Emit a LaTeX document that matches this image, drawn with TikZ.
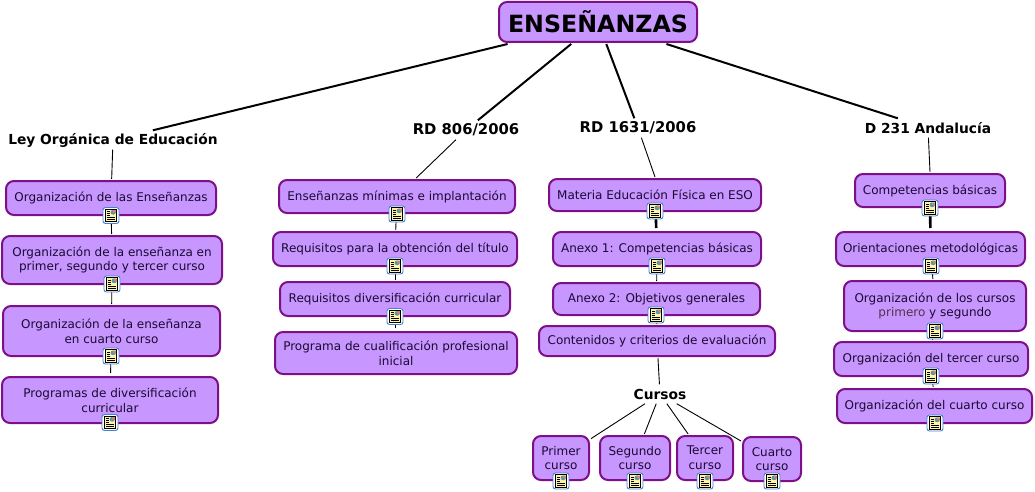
\documentclass[tikz,border=0pt]{standalone}
\usepackage{fontspec}
\setmainfont{DejaVu Sans}
\usepackage{tikz}
\definecolor{BoxFill}{RGB}{ 200, 150, 255}
\definecolor{BoxEdge}{RGB}{ 125, 15, 135}
\definecolor{BoxText}{RGB}{ 25, 10, 50}
\definecolor{DocBlue}{RGB}{ 70, 130, 205}
\definecolor{DocPaper}{RGB}{ 255, 245, 170}
\definecolor{DocSky}{RGB}{ 90, 150, 170}
\definecolor{DocRose}{RGB}{ 215, 130, 110}
\definecolor{WordBrown}{RGB}{ 85, 50, 70}

\begin{document}
\begin{tikzpicture}[x=1pt, y=-1pt]
      \tikzstyle{box}=[draw=BoxEdge, fill=BoxFill, line width=2pt, rounded corners=8,
        text=BoxText, align=center, inner sep=0, outer sep=2,
        font=\fontsize{12}{14.6}\selectfont];
      \tikzstyle{topbox}=[box, text=black, outer sep=2,
        font=\fontsize{23.7}{28}\selectfont\bfseries];
      \tikzstyle{lawlabel}=[text=black, inner sep=0, minimum height=19,
        font=\fontsize{13.8}{16}\selectfont\bfseries];
      \tikzstyle{rdlabel}=[lawlabel, font=\fontsize{14.8}{16}\selectfont\bfseries];
      \tikzstyle{mainedge}=[line width=2pt];
      \tikzstyle{subedge}=[line width=.9pt];
      \tikzstyle{heavyedge}=[line width=2.6pt];
      \tikzstyle{doc}=[draw=DocBlue, fill=white, line width=.9pt, rounded corners=2.5,
        minimum size=16, inner sep=0, path picture={
          \begin{scope}[shift={(path picture bounding box.center)}]
            \draw[draw=black, fill=DocPaper, line width=.9pt, rounded corners=0] (-5.5,-6.2) rectangle (5.5,6.2);
            \fill[DocSky] (-.5,-5.5) rectangle (4.8,-.8);
            \fill[DocRose] (2.2,-5.5) rectangle (4.8,-3);
            \draw[draw=black, line width=.9pt] (-4,-4) -- (-1.3,-4) (-4,-2) -- (-1.3,-2) (-4,0) -- (-1.3,0);
            \draw[draw=black, line width=.9pt] (-4,2) -- (4,2) (-4,4) -- (4,4);
          \end{scope}}];

      \pgfdeclarelayer{background}
      \pgfsetlayers{background,main}

      \useasboundingbox (0,0) rectangle (1035,492);

      \node[topbox, minimum width=198, minimum height=40] (root) at (598,22) {ENSEÑANZAS};

      % laws
      \node[lawlabel] (loe) at (113,140) {Ley Orgánica de Educación};
      \node[rdlabel] (rdmin) at (466,130) {RD 806/2006};
      \node[rdlabel] (rdeso) at (638,128) {RD 1631/2006};
      \node[lawlabel] (dand) at (928,128) {D 231 Andalucía};
      \node[lawlabel] (cursos) at (660,394) {Cursos};

      % first column
      \node[box, minimum width=210, minimum height=34] (orgens) at (111,198) {Organización de las Enseñanzas};
      \node[box, minimum width=220, minimum height=48] (orgprim) at (112,260) {Organización de la enseñanza en\\primer, segundo y tercer curso};
      \node[box, minimum width=217, minimum height=50] (orgcuar) at (111.5,331) {Organización de la enseñanza\\en cuarto curso};
      \node[box, minimum width=216, minimum height=46] (progdiv) at (110,400) {Programas de diversificación\\curricular};

      % second column
      \node[box, minimum width=236, minimum height=33] (ensmin) at (397,196.5) {Enseñanzas mínimas e implantación};
      \node[box, minimum width=244, minimum height=34] (reqtit) at (395,249) {Requisitos para la obtención del título};
      \node[box, minimum width=230, minimum height=34] (reqdiv) at (395,299) {Requisitos diversificación curricular};
      \node[box, minimum width=242, minimum height=42] (progcual) at (396,353) {Programa de cualificación profesional\\inicial};

      % third column
      \node[box, minimum width=212, minimum height=32] (matfis) at (655,195) {Materia Educación Física en ESO};
      \node[box, minimum width=208, minimum height=34] (anexa) at (657,249) {Anexo 1: Competencias básicas};
      \node[box, minimum width=207, minimum height=32] (anexb) at (656.5,299) {Anexo 2: Objetivos generales};
      \node[box, minimum width=236, minimum height=30] (contcrit) at (657,341) {Contenidos y criterios de evaluación};
      \node[box, minimum width=56, minimum height=44] (primer) at (561,458) {Primer\\curso};
      \node[box, minimum width=70, minimum height=44] (segundo) at (635,458) {Segundo\\curso};
      \node[box, minimum width=56, minimum height=44] (tercer) at (705,458) {Tercer\\curso};
      \node[box, minimum width=58, minimum height=44] (cuarto) at (772,459) {Cuarto\\curso};

      % fourth column
      \node[box, minimum width=150, minimum height=33] (compbas) at (930,190.5) {Competencias básicas};
      \node[box, minimum width=189, minimum height=34] (orimet) at (930.5,249) {Orientaciones metodológicas};
      \node[box, minimum width=182, minimum height=50] (orgpris) at (935,306) {Organización de los cursos\\{\color{WordBrown}primero} y segundo};
      \node[box, minimum width=194, minimum height=34] (orgter) at (931,359) {Organización del tercer curso};
      \node[box, minimum width=195, minimum height=34] (orgcua) at (934.5,406) {Organización del cuarto curso};

      % attached documents
      \node[doc] (docorgens) at (111,215.5) {};
      \node[doc] (docorgprim) at (112,284) {};
      \node[doc] (docorgcuar) at (111,356) {};
      \node[doc] (docprogdiv) at (110,422.5) {};
      \node[doc] (docensmin) at (397,214) {};
      \node[doc] (docreqtit) at (395,266) {};
      \node[doc] (docreqdiv) at (395,316.5) {};
      \node[doc] (docmatfis) at (655,211) {};
      \node[doc] (docanexa) at (657,266) {};
      \node[doc] (docanexb) at (656,315) {};
      \node[doc] (docprimer) at (561,481) {};
      \node[doc] (docsegundo) at (635,481) {};
      \node[doc] (doctercer) at (705,481) {};
      \node[doc] (doccuarto) at (772,481) {};
      \node[doc] (doccompbas) at (930,208) {};
      \node[doc] (docorimet) at (931,266) {};
      \node[doc] (docorgpris) at (935,331) {};
      \node[doc] (docorgter) at (931,376) {};
      \node[doc] (docorgcua) at (935,423) {};

      \begin{pgfonlayer}{background}
        \draw[mainedge] (root) -- (loe);
        \draw[mainedge] (root) -- (rdmin);
        \draw[mainedge] (root) -- (rdeso);
        \draw[mainedge] (root) -- (dand);

        \draw[subedge] (loe) -- (orgens);
        \draw[subedge] (orgens) -- (orgprim);
        \draw[subedge] (orgprim) -- (orgcuar);
        \draw[subedge, shorten >=2] (orgcuar) -- (progdiv);

        \draw[subedge] (rdmin) -- (ensmin);
        \draw[subedge] (ensmin) -- (reqtit);
        \draw[subedge] (reqtit) -- (reqdiv);
        \draw[subedge, shorten >=2] (reqdiv) -- (progcual);

        \draw[subedge] (rdeso) -- (matfis.north);
        \draw[heavyedge, shorten >=2] (matfis) -- (anexa);
        \draw[subedge] (anexa) -- (anexb);
        \draw[subedge] (anexb) -- (contcrit);
        \draw[subedge] (contcrit) -- (cursos);

        \draw[subedge] (cursos) -- (primer);
        \draw[subedge] (cursos) -- (segundo);
        \draw[subedge] (cursos) -- (tercer);
        \draw[subedge] (cursos) -- (cuarto);

        \draw[subedge] (dand) -- (compbas.north);
        \draw[heavyedge, shorten >=2] (compbas) -- (orimet);
        \draw[subedge] (orimet) -- (orgpris);
        \draw[subedge] (orgpris) -- (orgter);
        \draw[subedge] (orgter) -- (orgcua);
      \end{pgfonlayer}
    \end{tikzpicture}
\end{document}
